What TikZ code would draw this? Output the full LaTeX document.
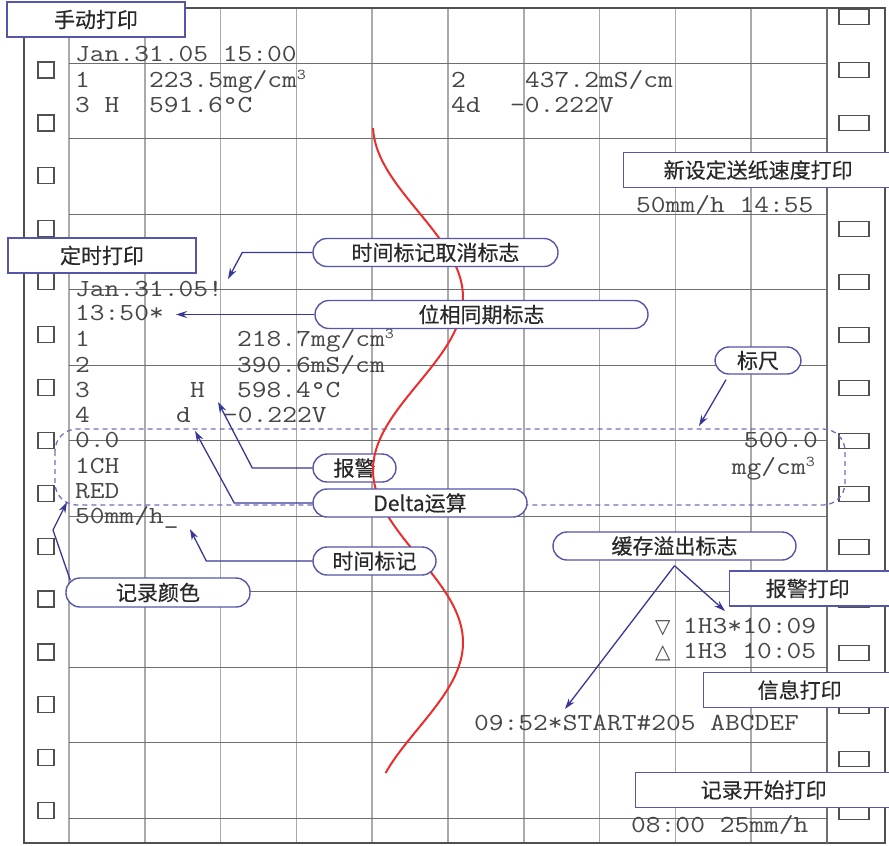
\documentclass[tikz,border=0pt]{standalone}
\usepackage{fontspec}
\newfontfamily\cjk[FakeBold=0.4]{Noto Sans CJK SC}
\newfontfamily\mono[FakeStretch=1.17]{Latin Modern Mono}
\newfontfamily\symf{DejaVu Sans}
\newcommand\supth{\raisebox{0.3em}{\fontsize{15}{15}\selectfont 3}}
\usetikzlibrary{arrows.meta}
\definecolor{lblue}{RGB}{85,85,170}
\definecolor{ablue}{RGB}{55,55,150}
\definecolor{dblue}{RGB}{110,110,190}
\definecolor{cred}{RGB}{235,45,45}
\definecolor{txtg}{RGB}{70,70,70}
\definecolor{cjkt}{RGB}{40,40,40}
\definecolor{vgrid}{RGB}{170,170,170}
\definecolor{hgrid}{RGB}{110,110,110}
\definecolor{frm}{RGB}{80,80,80}
\begin{document}
\begin{tikzpicture}[x=1pt,y=-1pt,
  mtext/.style={anchor=base west,inner sep=0pt,font=\mono\fontsize{24.5}{24.5}\selectfont,text=txtg},
  mtextr/.style={mtext,anchor=base east},
  symtext/.style={anchor=base west,inner sep=0pt,font=\symf\fontsize{20}{20}\selectfont,text=txtg},
  lbox/.style={draw=lblue,line width=1.4pt,fill=white,font=\cjk\fontsize{21}{21}\selectfont,text=cjkt,minimum height=35pt,inner sep=0pt},
  callout/.style={draw=lblue,line width=1.4pt,fill=white,rounded corners=14pt,font=\cjk\fontsize{21}{21}\selectfont,text=cjkt,minimum height=28pt,inner sep=0pt},
  conn/.style={draw=ablue,line width=1.3pt,-{Stealth[length=11pt,width=7pt]}},
  hole/.style={draw=frm,line width=1.2pt}]
\useasboundingbox (0,0) rectangle (889,846);
\clip (0,0) rectangle (889,846);
% grid
\foreach \i in {0,...,9} \draw[vgrid,line width=1.5pt] ({69+75.8*\i},8) -- ({69+75.8*\i},843);
\foreach \i in {0,...,10} \draw[hgrid,line width=1pt] (69,{63+75.5*\i}) -- (827,{63+75.5*\i});
\draw[frm,line width=1.5pt] (24,8) rectangle (885,843);
\draw[hgrid,line width=1.3pt] (827,8) -- (827,843);
% holes
\foreach \i in {0,...,14} \draw[hole] (38,{62+52.9*\i}) rectangle ++(16,16);
\foreach \i in {0,...,15} \draw[hole] (839,{9.5+53*\i}) rectangle ++(30,15);
% manual print block
\node[mtext] (a1) at (75,61) {Jan.31.05 15:00};
\node[mtext] (a2) at (75,87) {1};
\node[mtext] (a3) at (149,87) {223.5mg/cm\supth};
\node[mtext] (a4) at (75,112) {3 H};
\node[mtext] (a5) at (149,112) {591.6°C};
\node[mtext] (a6) at (451,87) {2};
\node[mtext] (a7) at (525,87) {437.2mS/cm};
\node[mtext] (a8) at (451,112) {4d};
\node[mtext] (a9) at (510,112) {-0.222V};
\node[mtext] (a10) at (636,212) {50mm/h 14:55};
% timed print block
\node[mtext] (b1) at (75,296) {Jan.31.05!};
\node[mtext] (b2) at (75,320) {13:50*};
\node[mtext] (b3) at (75,346) {1};
\node[mtext] (b4) at (237,346) {218.7mg/cm\supth};
\node[mtext] (b5) at (75,372) {2};
\node[mtext] (b6) at (237,372) {390.6mS/cm};
\node[mtext] (b7) at (75,397) {3};
\node[mtext] (b8) at (190,397) {H};
\node[mtext] (b9) at (237,397) {598.4°C};
\node[mtext] (b10) at (75,422) {4};
\node[mtext] (b11) at (176,422) {d};
\node[mtext] (b12) at (223,422) {-0.222V};
\node[mtext] (b13) at (75,447) {0.0};
\node[mtext] (b14) at (75,473) {1CH};
\node[mtext] (b15) at (75,498) {RED};
\node[mtext] (b16) at (75,523) {50mm/h\_};
\node[mtextr] (b17) at (818,447) {500.0};
\node[mtextr] (b18) at (815,474) {mg/cm\supth};
% alarm / message / start
\node[symtext] (tr1) at (655,633) {▽};
\node[mtext] (c1) at (683,633) {1H3*10:09};
\node[symtext] (tr2) at (655,658) {△};
\node[mtext] (c2) at (683,658) {1H3 10:05};
\node[mtext] (c3) at (474,730) {09:52*START\#205 ABCDEF};
\node[mtext] (c4) at (631,832) {08:00 25mm/h};
% scale dashed frame
\draw[dblue,line width=1.3pt,dash pattern=on 5pt off 4pt,rounded corners=22pt] (55,429) rectangle (845,505);
% alarm callout (curve passes over it)
\node[callout,minimum width=83pt] (alarm) at (354.5,468) {报警};
% red trace
\draw[cred,line width=2pt] plot[variable=\t,domain=128:773,samples=120,smooth] ({418-45*cos(1.043478*(\t-125))},\t);
% callouts
\node[callout,minimum width=245pt] (tcancel) at (435.5,252.5) {时间标记取消标志};
\node[callout,minimum width=333pt] (phase) at (481.5,314.5) {位相同期标志};
\node[callout,minimum width=86pt,minimum height=27pt] (scale) at (758,360.5) {标尺};
\node[callout,minimum width=214pt] (delta) at (420,503) {Delta运算};
\node[callout,minimum width=123pt] (tmark) at (374.5,561) {时间标记};
\node[callout,minimum width=184pt,minimum height=29pt] (color) at (158,592.5) {记录颜色};
\node[callout,minimum width=243pt] (buffer) at (674.5,546) {缓存溢出标志};
% rectangular labels
\node[lbox,minimum width=178pt] (manual) at (96,19.5) {手动打印};
\node[lbox,minimum width=188pt] (timed) at (102,255.5) {定时打印};
\node[lbox,anchor=west,text width=192pt,inner xsep=40pt,align=left] (newspeed) at (623,170) {新设定送纸速度打印};
\node[lbox,anchor=west,text width=94pt,inner xsep=36pt,align=left] (alarmprint) at (729,588.5) {报警打印};
\node[lbox,anchor=west,text width=84pt,inner xsep=54pt,align=left] (msgprint) at (703,690) {信息打印};
\node[lbox,anchor=west,text width=130pt,inner xsep=65pt,align=left] (startprint) at (635,790) {记录开始打印};
% connectors
\coordinate (tcT) at (228,279);
\draw[conn] (tcancel.west) -- ++(-70,0) -- (tcT);
\coordinate (phT) at (176,314.5);
\draw[conn] (phase.west) -- (phT);
\coordinate (scT) at (699,426);
\draw[conn] ([xshift=-32pt,yshift=-5pt]scale.south) -- (scT);
\coordinate (alT) at (218,402);
\draw[conn] (alarm.west) -- ++(-60,0) -- (alT);
\coordinate (deT) at (195,431);
\draw[conn] (delta.west) -- ++(-78,0) -- (deT);
\coordinate (tmT) at (190,529);
\draw[conn] (tmark.west) -- ++(-106,0) -- (tmT);
\coordinate (coB) at (53,530);
\coordinate (coT) at (67,502);
\draw[conn] ([xshift=5pt,yshift=-3pt]color.north west) -- (coB) -- (coT);
\coordinate (buA) at (725,611);
\coordinate (buB) at (565,709);
\draw[conn] ([yshift=-5pt]buffer.south) -- (buA);
\draw[conn] ([yshift=-5pt]buffer.south) -- (buB);
\end{tikzpicture}
\end{document}
